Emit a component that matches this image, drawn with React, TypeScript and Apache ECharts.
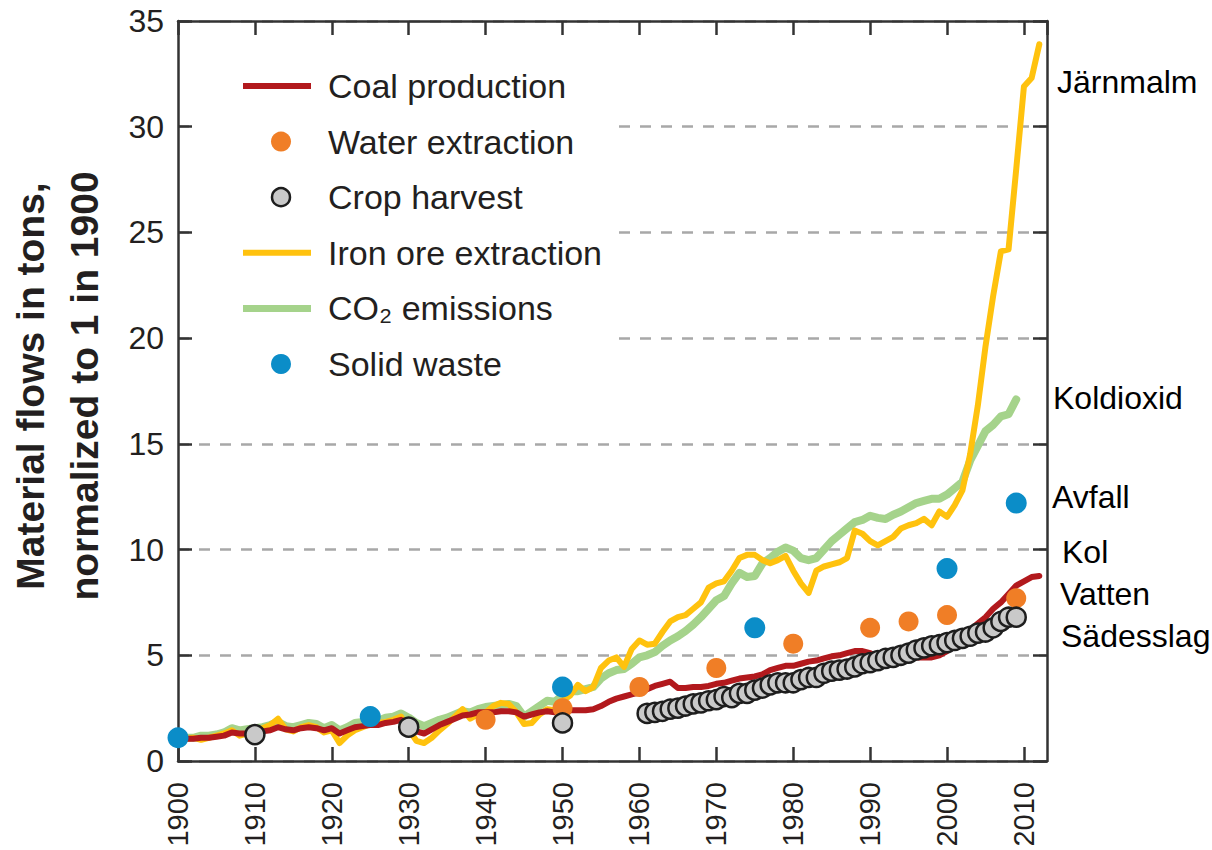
import React, { useEffect, useRef } from "react";
import * as echarts from "echarts";

// ---------- DATA ----------
const LINE_START_YEAR = 1900;

const coalValues = [
  1.0, 1.05, 1.05, 1.1, 1.1, 1.15, 1.2, 1.35, 1.3, 1.3,
  1.35, 1.4, 1.45, 1.6, 1.5, 1.45, 1.55, 1.6, 1.55, 1.45,
  1.55, 1.3, 1.45, 1.6, 1.65, 1.7, 1.7, 1.8, 1.85, 1.95,
  1.75, 1.4, 1.3, 1.5, 1.7, 1.85, 2.0, 2.15, 2.2, 2.3,
  2.3, 2.3, 2.35, 2.35, 2.3, 2.1, 2.2, 2.3, 2.35, 2.3,
  2.35, 2.4, 2.4, 2.4, 2.45, 2.6, 2.8, 2.95, 3.05, 3.15,
  3.25, 3.4, 3.55, 3.65, 3.75, 3.45, 3.45, 3.5, 3.5, 3.55,
  3.65, 3.7, 3.8, 3.9, 3.95, 4.0, 4.1, 4.3, 4.4, 4.5,
  4.5, 4.6, 4.7, 4.75, 4.85, 4.95, 5.0, 5.1, 5.2, 5.2,
  5.1, 4.9, 4.8, 4.7, 4.7, 4.8, 4.9, 4.9, 4.9, 5.0,
  5.2, 5.5, 5.9, 6.2, 6.5, 6.8, 7.2, 7.5, 7.9, 8.3,
  8.5, 8.7, 8.75,
];

const ironValues = [
  1.0, 1.05, 1.1, 1.0, 1.1, 1.2, 1.3, 1.45, 1.2, 1.3,
  1.35, 1.55, 1.7, 2.0, 1.5, 1.4, 1.6, 1.7, 1.6, 1.35,
  1.45, 0.85, 1.2, 1.45, 1.6, 1.75, 1.8, 1.85, 1.95, 2.1,
  1.5, 0.95, 0.85, 1.1, 1.45, 1.75, 2.1, 2.45, 2.0, 2.2,
  2.3, 2.6, 2.75, 2.7, 2.3, 1.75, 1.8, 2.2, 2.45, 2.4,
  2.85, 3.1, 3.6, 3.3, 3.5, 4.4, 4.75, 4.9, 4.45, 5.3,
  5.7, 5.5, 5.55, 6.1, 6.6, 6.8, 6.9, 7.2, 7.5, 8.2,
  8.4, 8.5, 9.0, 9.6, 9.75, 9.75, 9.5, 9.35, 9.5, 9.7,
  9.0, 8.4, 7.95, 9.0, 9.2, 9.3, 9.4, 9.6, 10.9, 10.75,
  10.4, 10.2, 10.4, 10.6, 11.0, 11.15, 11.25, 11.45, 11.15, 11.8,
  11.55, 12.1, 12.8, 14.5, 16.8, 19.6, 22.0, 24.1, 24.2, 28.0,
  31.9, 32.3, 33.9,
];

const co2Values = [
  1.0, 1.1, 1.1, 1.2, 1.2, 1.25, 1.35, 1.55, 1.45, 1.5,
  1.55, 1.6, 1.7, 1.85, 1.65, 1.6, 1.7, 1.8, 1.75, 1.55,
  1.7, 1.45, 1.6, 1.8, 1.85, 1.9, 1.9, 2.05, 2.1, 2.25,
  2.05, 1.8, 1.65, 1.8, 1.95, 2.05, 2.2, 2.35, 2.3, 2.45,
  2.55, 2.6, 2.65, 2.7, 2.6, 2.1, 2.35, 2.6, 2.85, 2.8,
  3.1, 3.3, 3.3, 3.4, 3.5, 3.9, 4.15, 4.3, 4.35, 4.6,
  4.9, 5.0, 5.15, 5.45, 5.7, 5.9, 6.15, 6.45, 6.8, 7.2,
  7.6, 7.8, 8.4, 8.9, 8.7, 8.75, 9.35, 9.6, 9.9, 10.1,
  9.95, 9.6, 9.5, 9.6, 10.0, 10.4, 10.7, 11.0, 11.3, 11.4,
  11.6, 11.5, 11.45, 11.65, 11.8, 12.0, 12.2, 12.3, 12.4, 12.4,
  12.6, 12.9, 13.2, 14.2, 14.9, 15.6, 15.9, 16.3, 16.4, 17.1,
];

const waterYears = [1940, 1950, 1960, 1970, 1980, 1990, 1995, 2000, 2009];
const waterValues = [1.95, 2.5, 3.5, 4.4, 5.55, 6.3, 6.6, 6.9, 7.7];

const cropYears = [
  1910, 1930, 1950,
  1961, 1962, 1963, 1964, 1965, 1966, 1967, 1968, 1969,
  1970, 1971, 1972, 1973, 1974, 1975, 1976, 1977, 1978, 1979,
  1980, 1981, 1982, 1983, 1984, 1985, 1986, 1987, 1988, 1989,
  1990, 1991, 1992, 1993, 1994, 1995, 1996, 1997, 1998, 1999,
  2000, 2001, 2002, 2003, 2004, 2005, 2006, 2007, 2008, 2009,
];
const cropValues = [
  1.25, 1.6, 1.8,
  2.25, 2.3, 2.35, 2.45, 2.5, 2.6, 2.7, 2.75, 2.85,
  2.9, 3.05, 3.0, 3.2, 3.2, 3.35, 3.45, 3.6, 3.7, 3.7,
  3.7, 3.85, 3.95, 3.95, 4.15, 4.25, 4.3, 4.35, 4.45, 4.6,
  4.65, 4.75, 4.85, 4.9, 5.0, 5.1, 5.25, 5.35, 5.45, 5.5,
  5.6, 5.7, 5.8, 5.9, 6.05, 6.1, 6.3, 6.6, 6.8, 6.8,
];

const wasteYears = [1900, 1925, 1950, 1975, 2000, 2009];
const wasteValues = [1.1, 2.1, 3.5, 6.3, 9.1, 12.2];

const legendNames = [
  "Coal production",
  "Water extraction",
  "Crop harvest",
  "Iron ore extraction",
  "CO\u2082 emissions",
  "Solid waste",
];

const sideLabels = ["Järnmalm", "Koldioxid", "Avfall", "Kol", "Vatten", "Sädesslag"];

const yAxisTitle = "Material flows in tons,\nnormalized to 1 in 1900";

// ---------- STYLE ----------
const C_COAL = "#b2191d";
const C_WATER = "#f07e26";
const C_CROP = "#c9c9c9";
const C_IRON = "#ffc20e";
const C_CO2 = "#a5d38b";
const C_WASTE = "#0b8dc8";
const C_AXIS = "#333333";
const C_TEXT = "#231f20";
const FONT = "'Liberation Sans', Arial, 'DejaVu Sans', sans-serif";

function pairs(startYear: number, vals: number[]) {
  return vals.map((v, i) => [startYear + i, v]);
}
function zipPairs(xs: number[], vals: number[]) {
  return xs.map((x, i) => [x, vals[i]]);
}

export default function App() {
  const ref = useRef<HTMLDivElement>(null);

  useEffect(() => {
    if (!ref.current) return;
    const chart = echarts.init(ref.current, undefined, { renderer: "svg" });

    const axisLine = { show: true, onZero: false, lineStyle: { color: C_AXIS, width: 2.5 } };
    const axisTick = { show: true, inside: true, length: 14, lineStyle: { color: C_AXIS, width: 2.5 } };

    const legendColors = [C_COAL, C_WATER, C_CROP, C_IRON, C_CO2, C_WASTE];
    const legendKinds = ["line", "dot", "ring", "line", "line", "dot"];
    const legendEls: any[] = [
      {
        type: "rect",
        shape: { x: 196, y: 50, width: 422, height: 342 },
        style: { fill: "#ffffff" },
        z: 1,
      },
    ];
    legendNames.forEach((name, i) => {
      const y = 86 + i * 55.6;
      const kind = legendKinds[i];
      if (kind === "line") {
        legendEls.push({
          type: "line",
          shape: { x1: 243, y1: y, x2: 311, y2: y },
          style: { stroke: legendColors[i], lineWidth: i === 4 ? 7 : 6 },
          z: 2,
        });
      } else if (kind === "dot") {
        legendEls.push({
          type: "circle",
          shape: { cx: 281, cy: y, r: 10 },
          style: { fill: legendColors[i] },
          z: 2,
        });
      } else {
        legendEls.push({
          type: "circle",
          shape: { cx: 281, cy: y, r: 9 },
          style: { fill: legendColors[i], stroke: "#1e1e1e", lineWidth: 2.5 },
          z: 2,
        });
      }
      legendEls.push({
        type: "text",
        x: 328,
        y: y,
        style: {
          text: name,
          fontSize: 34,
          fontFamily: FONT,
          fill: C_TEXT,
          align: "left",
          verticalAlign: "middle",
        },
        z: 2,
      });
    });

    const sidePos = [
      [1057, 82],
      [1053, 398],
      [1052, 497],
      [1062, 552],
      [1060, 594],
      [1061, 636],
    ];
    const sideEls = sideLabels.map((t, i) => ({
      type: "text",
      x: sidePos[i][0],
      y: sidePos[i][1],
      style: {
        text: t,
        fontSize: 32,
        fontFamily: FONT,
        fill: "#000000",
        align: "left",
        verticalAlign: "middle",
      },
      z: 2,
    }));

    const titleEl = {
      type: "text",
      x: 57,
      y: 386,
      rotation: Math.PI / 2,
      style: {
        text: yAxisTitle,
        fontSize: 39,
        fontWeight: "bold",
        fontFamily: FONT,
        fill: C_TEXT,
        align: "center",
        verticalAlign: "middle",
        lineHeight: 54,
      },
      z: 2,
    };

    const option: any = {
      animation: false,
      backgroundColor: "#ffffff",
      grid: { left: 178, right: 165, top: 21, bottom: 89, containLabel: false },
      xAxis: [
        {
          type: "value",
          min: 1900,
          max: 2013,
          interval: 10,
          position: "bottom",
          axisLine,
          axisTick,
          axisLabel: {
            rotate: 90,
            margin: 21,
            fontSize: 29,
            fontFamily: FONT,
            color: C_TEXT,
            showMaxLabel: false,
            formatter: (v: number) => String(v),
          },
          splitLine: { show: false },
        },
        {
          type: "value",
          min: 1900,
          max: 2013,
          interval: 10,
          position: "top",
          axisLine,
          axisTick,
          axisLabel: { show: false },
          splitLine: { show: false },
        },
      ],
      yAxis: [
        {
          type: "value",
          min: 0,
          max: 35,
          interval: 5,
          position: "left",
          axisLine,
          axisTick,
          axisLabel: { margin: 14, fontSize: 32, fontFamily: FONT, color: C_TEXT },
          splitLine: {
            show: true,
            lineStyle: { color: "#a8a8a8", width: 2.5, type: [11, 10] },
          },
        },
        {
          type: "value",
          min: 0,
          max: 35,
          interval: 5,
          position: "right",
          axisLine,
          axisTick,
          axisLabel: { show: false },
          splitLine: { show: false },
        },
      ],
      series: [
        {
          name: legendNames[4],
          type: "line",
          data: pairs(LINE_START_YEAR, co2Values),
          showSymbol: false,
          symbol: "none",
          lineStyle: { color: C_CO2, width: 8, cap: "round", join: "round" },
          z: 3,
        },
        {
          name: legendNames[3],
          type: "line",
          data: pairs(LINE_START_YEAR, ironValues),
          showSymbol: false,
          symbol: "none",
          lineStyle: { color: C_IRON, width: 6, cap: "round", join: "round" },
          z: 4,
        },
        {
          name: legendNames[0],
          type: "line",
          data: pairs(LINE_START_YEAR, coalValues),
          showSymbol: false,
          symbol: "none",
          lineStyle: { color: C_COAL, width: 6, cap: "round", join: "round" },
          z: 5,
        },
        {
          name: legendNames[1],
          type: "scatter",
          data: zipPairs(waterYears, waterValues),
          symbol: "circle",
          symbolSize: 20,
          itemStyle: { color: C_WATER, opacity: 1 },
          z: 6,
        },
        {
          name: legendNames[2],
          type: "scatter",
          data: zipPairs(cropYears, cropValues),
          symbol: "circle",
          symbolSize: 19,
          itemStyle: { color: C_CROP, borderColor: "#1e1e1e", borderWidth: 2.5, opacity: 1 },
          z: 7,
        },
        {
          name: legendNames[5],
          type: "scatter",
          data: zipPairs(wasteYears, wasteValues),
          symbol: "circle",
          symbolSize: 21,
          itemStyle: { color: C_WASTE, opacity: 1 },
          z: 8,
        },
      ],
      graphic: [...legendEls, ...sideEls, titleEl],
    };

    chart.setOption(option);
    return () => chart.dispose();
  }, []);

  return (
    <div
      ref={ref}
      style={{ position: "absolute", left: 0, top: 0, width: 1212, height: 850 }}
    />
  );
}
